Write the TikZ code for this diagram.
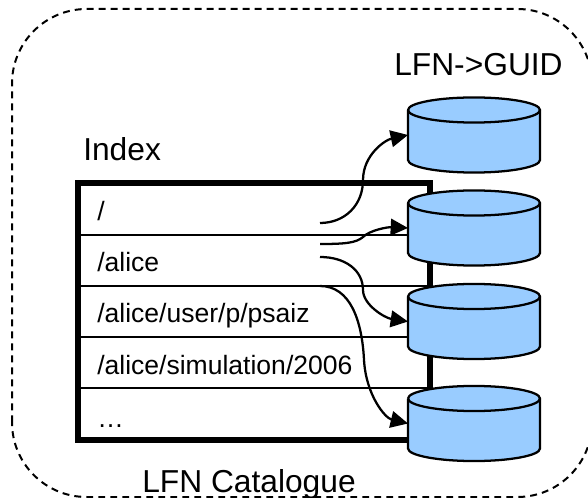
\documentclass[tikz,border=0pt]{standalone}
\usepackage{fontspec}
\setmainfont{Liberation Sans}
\usetikzlibrary{arrows.meta}
\definecolor{dbblue}{HTML}{99CCFF}
\tikzset{
  big/.style={font=\fontsize{23.8pt}{26pt}\selectfont,anchor=base west,inner sep=0pt},
  rowtext/.style={font=\fontsize{19.9pt}{22pt}\selectfont,anchor=base west,inner sep=0pt},
  frame/.style={draw=black,line width=4.5pt,minimum width=264pt,minimum height=192pt,inner sep=0pt,outer sep=0pt},
  rowline/.style={draw=black,line width=1.7pt},
  dbase/.style={rectangle,minimum width=99pt,minimum height=56pt,inner sep=0pt,outer sep=0pt},
  dbshape/.style={draw=black,line width=1.7pt,fill=dbblue,line join=round},
  link/.style={draw=black,line width=1.7pt,-{Triangle[length=13pt,width=12.5pt]}},
  outer/.style={draw=black,line width=1.5pt,dash pattern=on 5.2pt off 3.8pt,rounded corners=56pt}
}
\newcommand{\dbcyl}[2]{%
  \node[dbase] (#1) at #2 {};
  \draw[dbshape] (#1.west) ++(0,-25) -- ++(0,50)
    arc[start angle=180,end angle=360,x radius=49.5pt,y radius=9.4pt]
    -- ++(0,-50)
    arc[start angle=0,end angle=180,x radius=49.5pt,y radius=9.4pt];
  \draw[dbshape,fill=none] (#1.west) ++(0,-25)
    arc[start angle=180,end angle=360,x radius=49.5pt,y radius=9.4pt];
}
\begin{document}
\begin{tikzpicture}[x=0.75pt,y=-0.75pt]
\path[use as bounding box,clip] (0,0) rectangle (588,498);
\draw[outer] (12,497) rectangle (592,9);
\node[frame] (index) at (254,311.5) {};
\coordinate (r1) at (254,235);
\coordinate (r2) at (254,286);
\coordinate (r3) at (254,337);
\coordinate (r4) at (254,388);
\draw[rowline] (index.west |- r1) -- (index.east |- r1);
\draw[rowline] (index.west |- r2) -- (index.east |- r2);
\draw[rowline] (index.west |- r3) -- (index.east |- r3);
\draw[rowline] (index.west |- r4) -- (index.east |- r4);
\node[big] (ttl) at (83,161) {Index};
\node[big] (ttr) at (394,76) {LFN->GUID};
\node[big] (ttb) at (142,492) {LFN Catalogue};
\node[rowtext] (n0) at (97,221) {/};
\node[rowtext] (n1) at (97,272) {/alice};
\node[rowtext] (n2) at (97,323) {/alice/user/p/psaiz};
\node[rowtext] (n3) at (97,374) {/alice/simulation/2006};
\node[rowtext] (n4) at (97,427) {…};
\coordinate (a) at (320,223);
\coordinate (b) at (320,244);
\coordinate (c) at (320,257);
\coordinate (d) at (320,286);
\dbcyl{c1}{(474,135)}
\dbcyl{c2}{(474,228)}
\dbcyl{c3}{(474,321.5)}
\dbcyl{c4}{(474,423.5)}
\draw[link] (a) .. controls (345,223) and (363,205) .. (363,180) .. controls (363,155) and (385,140) .. (c1.west);
\draw[link] (b) .. controls (345,244) and (356,243) .. (363,237) .. controls (370,230) and (388,227) .. (c2.west);
\draw[link] (c) .. controls (345,257) and (363,270) .. (363,290) .. controls (363,305) and (385,318) .. (c3.west);
\draw[link] (d) .. controls (350,286) and (362,320) .. (364,360) .. controls (366,395) and (385,418) .. (c4.west);
\end{tikzpicture}
\end{document}
